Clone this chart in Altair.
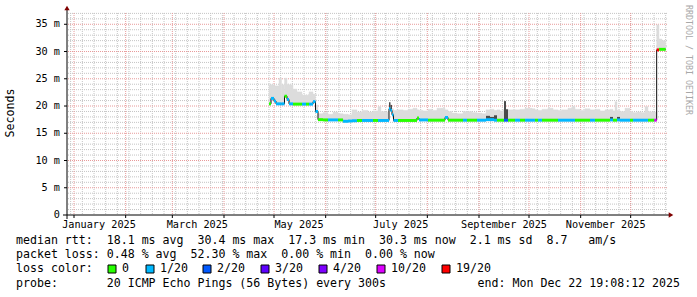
import altair as alt
import pandas as pd

# ---------------- data (day of year 2025, 0 = Jan 1; latency in ms) ----------------
seg_day = [
    117.0, 118.2, 120.0, 121.2, 123.0, 124.5, 126.3, 127.8, 129.0, 131.4,
    133.8, 136.8, 139.2, 141.0, 143.4, 144.9, 146.4, 149.4, 152.4, 155.4,
    158.4, 161.4, 164.4, 166.8, 169.8, 172.8, 176.4, 179.4, 182.4, 184.2,
    186.6, 189.0, 189.9, 190.8, 191.7, 194.4, 197.4, 200.4, 203.4, 205.8,
    207.0, 209.4, 212.4, 214.8, 217.8, 220.8, 222.6, 224.4, 226.8, 229.8,
    233.4, 235.8, 238.8, 241.8, 244.8, 247.2, 249.6, 252.0, 253.8, 255.6,
    257.4, 258.0, 259.2, 260.4, 264.6, 267.6, 270.6, 274.8, 276.6, 278.4,
    280.8, 284.4, 287.4, 290.4, 292.8, 296.4, 298.8, 300.6, 303.6, 306.6,
    309.6, 312.6, 315.6, 318.6, 321.6, 323.4, 324.6, 325.8, 327.6, 330.6,
    333.6, 335.4, 337.8, 340.2, 342.6, 344.4, 346.2, 348.2, 349.6, 351.0,
    352.8,
]
seg_end_day = 355.0

seg_median = [
    20.4, 21.4, 20.9, 20.4, 20.4, 20.4, 21.8, 21.2, 20.4, 20.35,
    20.35, 20.35, 20.35, 20.35, 20.8, 19.0, 17.5, 17.45, 17.45, 17.45,
    17.45, 17.2, 17.25, 17.3, 17.35, 17.35, 17.35, 17.35, 17.35, 17.35,
    17.35, 19.5, 19.2, 18.4, 17.35, 17.35, 17.35, 17.35, 17.35, 17.8,
    17.45, 17.45, 17.4, 17.4, 17.4, 17.4, 17.9, 17.4, 17.4, 17.4,
    17.4, 17.4, 17.4, 17.4, 17.4, 17.5, 17.5, 17.4, 17.4, 17.4,
    17.4, 17.4, 17.4, 17.4, 17.4, 17.4, 17.4, 17.4, 17.4, 17.4,
    17.4, 17.4, 17.4, 17.4, 17.4, 17.4, 17.4, 17.4, 17.4, 17.4,
    17.4, 17.4, 17.4, 17.4, 17.45, 17.4, 17.4, 17.45, 17.4, 17.4,
    17.4, 17.4, 17.4, 17.4, 17.4, 17.4, 17.4, 17.4, 30.3, 30.4,
    30.4,
]

seg_smoke_top = [
    23.9, 23.9, 23.7, 23.7, 25.1, 23.9, 25.1, 24.0, 23.9, 23.1,
    22.6, 22.0, 22.0, 22.6, 22.2, 20.2, 18.6, 18.8, 18.5, 18.9,
    18.6, 18.5, 18.4, 19.3, 18.9, 19.2, 18.9, 19.1, 19.9, 19.0,
    18.9, 19.8, 19.6, 19.5, 19.2, 19.3, 19.2, 19.4, 19.6, 19.3,
    19.2, 19.1, 19.4, 19.2, 19.6, 19.6, 19.3, 19.0, 18.7, 18.6,
    19.0, 19.0, 18.8, 18.7, 18.6, 19.3, 19.4, 19.2, 19.3, 19.1,
    19.3, 19.4, 19.4, 19.3, 19.3, 19.4, 19.6, 19.5, 19.3, 19.2,
    19.4, 19.6, 19.3, 19.2, 19.3, 19.6, 20.0, 19.4, 19.2, 19.5,
    19.3, 19.4, 19.1, 19.3, 19.4, 19.1, 20.8, 19.2, 19.0, 19.6,
    19.0, 18.8, 18.9, 18.8, 19.9, 19.0, 18.9, 18.9, 34.9, 32.3,
    32.0,
]

seg_lost = [
    0, 1, 1, 1, 1, 1, 0, 1, 1, 0,
    0, 1, 0, 1, 1, 1, 0, 0, 1, 1,
    0, 1, 1, 1, 0, 1, 1, 0, 1, 1,
    1, 1, 1, 1, 1, 0, 0, 0, 0, 0,
    1, 1, 0, 0, 0, 0, 1, 0, 0, 0,
    1, 0, 0, 1, 1, 1, 1, 1, 0, 0,
    0, 2, 2, 0, 1, 0, 1, 1, 0, 1,
    0, 0, 0, 1, 1, 1, 1, 0, 0, 0,
    1, 0, 0, 0, 1, 0, 0, 1, 1, 1,
    0, 1, 1, 1, 1, 0, 0, 10, 19, 0,
    0,
]

# darker smoke spikes
spike_start = [189.0, 189.9, 247.2, 249.6, 252.0, 258.0, 259.2, 321.6, 325.8]
spike_end = [189.9, 190.8, 249.6, 252.0, 253.8, 259.2, 260.4, 323.4, 327.6]
spike_top = [20.7, 20.2, 18.2, 18.0, 18.3, 20.9, 19.4, 18.0, 18.0]

loss_lost = [0, 1, 2, 3, 4, 10, 19]
loss_labels = ["0", "1/20", "2/20", "3/20", "4/20", "10/20", "19/20"]
loss_colors = ["#26ff00", "#00b8ff", "#0059ff", "#5e00ff", "#7e00ff", "#dd00ff", "#ff0000"]

y_label_values = [0, 5, 10, 15, 20, 25, 30, 35]
y_label_texts = ["0  ", "5 m", "10 m", "15 m", "20 m", "25 m", "30 m", "35 m"]
x_label_days = ["2025-01-16", "2025-03-16", "2025-05-16", "2025-07-16", "2025-09-16", "2025-11-16"]
x_label_texts = ["January 2025", "March 2025", "May 2025", "July 2025", "September 2025", "November 2025"]

legend_rtt = "median rtt:  18.1 ms avg  30.4 ms max  17.3 ms min  30.3 ms now  2.1 ms sd  8.7   am/s"
legend_loss = "packet loss: 0.48 % avg  52.30 % max  0.00 % min  0.00 % now"
legend_color = "loss color:"
legend_probe = "probe:       20 ICMP Echo Pings (56 Bytes) every 300s"
legend_end = "end: Mon Dec 22 19:08:12 2025"
watermark = "RRDTOOL / TOBI OETIKER"
y_title = "Seconds"

# ---------------- build tables ----------------
T0 = pd.Timestamp("2025-01-01")


def ts(d):
    return T0 + pd.to_timedelta(d, unit="D")


NB = "\u00a0"
lost_to_label = dict(zip(loss_lost, loss_labels))
ends = seg_day[1:] + [seg_end_day]
seg = pd.DataFrame({
    "start": [ts(d) for d in seg_day],
    "end": [ts(d) for d in ends],
    "median": seg_median,
    "top": seg_smoke_top,
    "loss": [lost_to_label[v] for v in seg_lost],
})
seg["band_lo"] = seg["median"] - 0.27
seg["band_hi"] = seg["median"] + 0.27
seg["smoke_lo"] = seg["median"] - 0.2

med_at = dict(zip(seg_day, seg_median))
spk = pd.DataFrame({
    "start": [ts(d) for d in spike_start],
    "end": [ts(d) for d in spike_end],
    "lo": [med_at[d] for d in spike_start],
    "top": spike_top,
})

line_df = pd.DataFrame({
    "t": [ts(d) for d in seg_day] + [ts(seg_end_day)],
    "m": seg_median + [seg_median[-1]],
})

week_df = pd.DataFrame({"t": pd.date_range("2024-12-30", "2025-12-22", freq="7D")})
month_df = pd.DataFrame({"t": pd.date_range("2025-01-01", "2025-12-01", freq="MS")})
ymin_df = pd.DataFrame({"v": [v for v in range(1, 38) if v % 5 != 0]})
ymaj_df = pd.DataFrame({"v": [5, 10, 15, 20, 25, 30, 35]})
ylab_df = pd.DataFrame({"v": y_label_values, "s": [s.replace(" ", NB) for s in y_label_texts]})
xlab_df = pd.DataFrame({"t": pd.to_datetime(x_label_days), "s": x_label_texts})

xscale = alt.Scale(
    domain=[
        alt.DateTime(year=2024, month=12, date=27, hours=19, minutes=8, seconds=12),
        alt.DateTime(year=2025, month=12, date=22, hours=19, minutes=8, seconds=12),
    ],
    nice=False,
)
yscale = alt.Scale(domain=[0, 37.07], nice=False, zero=False)

MONO = "DejaVu Sans Mono"
W, H = 600, 202
NOX = alt.Axis(title=None) if False else None

grid_minor_v = alt.Chart(week_df).mark_rule(color="#c4c4c4", strokeDash=[1, 1], strokeWidth=1).encode(
    x=alt.X("t:T", scale=xscale, axis=None))
grid_minor_h = alt.Chart(ymin_df).mark_rule(color="#c4c4c4", strokeDash=[1, 1], strokeWidth=1).encode(
    y=alt.Y("v:Q", scale=yscale, axis=None))
grid_major_v = alt.Chart(month_df).mark_rule(color="#e89a9a", strokeDash=[1, 1], strokeWidth=1).encode(
    x=alt.X("t:T", scale=xscale, axis=None))
grid_major_h = alt.Chart(ymaj_df).mark_rule(color="#e89a9a", strokeDash=[1, 1], strokeWidth=1).encode(
    y=alt.Y("v:Q", scale=yscale, axis=None))

smoke = alt.Chart(seg).mark_rect(color="#dcdcdc", stroke="#dcdcdc", strokeWidth=0.4).encode(
    x=alt.X("start:T", scale=xscale, axis=None), x2="end:T",
    y=alt.Y("smoke_lo:Q", scale=yscale, axis=None), y2="top:Q")
spikes = alt.Chart(spk).mark_rect(color="#4a4a4a").encode(
    x=alt.X("start:T", scale=xscale, axis=None), x2="end:T",
    y=alt.Y("lo:Q", scale=yscale, axis=None), y2="top:Q")
med_line = alt.Chart(line_df).mark_line(interpolate="step-after", color="#101010", strokeWidth=1).encode(
    x=alt.X("t:T", scale=xscale, axis=None),
    y=alt.Y("m:Q", scale=yscale, axis=None))
band = alt.Chart(seg).mark_rect().encode(
    x=alt.X("start:T", scale=xscale, axis=None), x2="end:T",
    y=alt.Y("band_lo:Q", scale=yscale, axis=None), y2="band_hi:Q",
    color=alt.Color("loss:N", scale=alt.Scale(domain=loss_labels, range=loss_colors), legend=None))

one = pd.DataFrame({"k": [0]})
x_axis_line = alt.Chart(one).mark_rule(color="black", strokeWidth=1).encode(
    x=alt.value(-4), x2=alt.value(602), y=alt.value(H))
y_axis_line = alt.Chart(one).mark_rule(color="black", strokeWidth=1).encode(
    x=alt.value(0), y=alt.value(-4), y2=alt.value(H + 4))
x_ticks = alt.Chart(month_df).mark_rule(color="black", strokeWidth=1).encode(
    x=alt.X("t:T", scale=xscale, axis=None), y=alt.value(H), y2=alt.value(H + 3))
y_ticks = alt.Chart(ymaj_df).mark_rule(color="black", strokeWidth=1).encode(
    y=alt.Y("v:Q", scale=yscale, axis=None), x=alt.value(-3), x2=alt.value(0))
arrow_up = alt.Chart(one).mark_point(shape="triangle-up", filled=True, size=28, color="#7f0000", opacity=1).encode(
    x=alt.value(0), y=alt.value(-5))
arrow_right = alt.Chart(one).mark_point(shape="triangle-right", filled=True, size=28, color="#7f0000", opacity=1).encode(
    x=alt.value(604), y=alt.value(H))

y_labels = alt.Chart(ylab_df).mark_text(font=MONO, fontSize=10.2, color="black", align="right", baseline="middle").encode(
    y=alt.Y("v:Q", scale=yscale, axis=None), x=alt.value(-7), text="s:N")
x_labels = alt.Chart(xlab_df).mark_text(font=MONO, fontSize=10.2, color="black", align="center", baseline="middle").encode(
    x=alt.X("t:T", scale=xscale, axis=None), y=alt.value(H + 10), text="s:N")


def txt(s, x, y, **kw):
    d = pd.DataFrame({"s": [s.replace(" ", NB)]})
    props = dict(font=MONO, fontSize=11.6, color="black", align="left", baseline="middle")
    props.update(kw)
    return alt.Chart(d).mark_text(**props).encode(text="s:N", x=alt.value(x), y=alt.value(y))


OX, OY = 67, 13
texts = [
    txt(legend_rtt, 16 - OX, 241 - OY),
    txt(legend_loss, 16 - OX, 255 - OY),
    txt(legend_color, 16 - OX, 269 - OY),
    txt(legend_probe, 16 - OX, 284 - OY),
    txt(legend_end, 680 - OX, 284 - OY, align="right"),
    txt(y_title, 11 - OX, 113 - OY, angle=270, align="center"),
    txt(watermark, 688 - OX, 5 - OY, angle=90, fontSize=8.3, color="#a8a8a8"),
]

sq_x = [108, 146, 203, 261, 319, 377, 442]
leg_df = pd.DataFrame({
    "label": loss_labels,
    "x0": [x - OX for x in sq_x],
    "x1": [x - OX + 8 for x in sq_x],
    "tx": [x - OX + 14 for x in sq_x],
})
leg_sq = alt.Chart(leg_df).mark_rect(stroke="black", strokeWidth=1).encode(
    x=alt.X("x0:Q", scale=None), x2="x1:Q",
    y=alt.value(265 - OY), y2=alt.value(273 - OY),
    color=alt.Color("label:N", scale=alt.Scale(domain=loss_labels, range=loss_colors), legend=None))
leg_tx = alt.Chart(leg_df).mark_text(font=MONO, fontSize=11.6, color="black", align="left", baseline="middle").encode(
    x=alt.X("tx:Q", scale=None), y=alt.value(269 - OY), text="label:N")

chart = alt.layer(
    grid_minor_v, grid_minor_h, grid_major_v, grid_major_h,
    smoke, spikes, med_line, band,
    x_axis_line, y_axis_line, x_ticks, y_ticks, arrow_up, arrow_right,
    y_labels, x_labels,
    *texts, leg_sq, leg_tx,
).resolve_scale(color="independent").properties(
    width=W, height=H,
    padding={"left": OX, "top": OY, "right": 697 - OX - W, "bottom": 297 - OY - H},
    autosize=alt.AutoSizeParams(type="none"),
    background="white",
).configure_view(strokeWidth=0)

chart.save("out.html", embed_options={"renderer": "svg", "actions": False})
